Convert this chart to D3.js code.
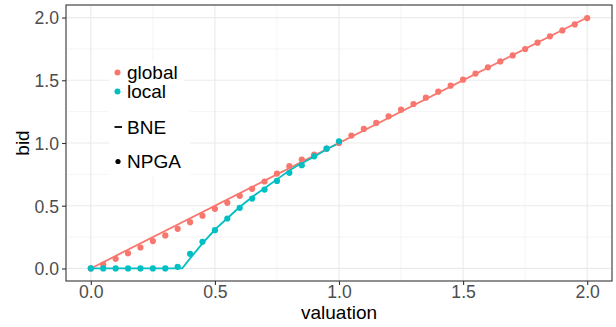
<!DOCTYPE html>
<html>
<head>
<meta charset="utf-8">
<script src="https://cdn.jsdelivr.net/npm/d3@7"></script>
<style>
  body { margin: 0; background: #fff; }
  text { font-family: "Liberation Sans", Arial, sans-serif; }
</style>
</head>
<body>
<div id="chart"></div>
<script>
// NPGA results on a 0.05 grid of valuations
const valuations = [0, 0.05, 0.1, 0.15, 0.2, 0.25, 0.3, 0.35, 0.4, 0.45, 0.5,
  0.55, 0.6, 0.65, 0.7, 0.75, 0.8, 0.85, 0.9, 0.95, 1.0,
  1.05, 1.1, 1.15, 1.2, 1.25, 1.3, 1.35, 1.4, 1.45, 1.5,
  1.55, 1.6, 1.65, 1.7, 1.75, 1.8, 1.85, 1.9, 1.95, 2.0];
const globalBid = [0, 0.03, 0.077, 0.12, 0.167, 0.218, 0.263, 0.316, 0.369, 0.42, 0.475,
  0.523, 0.579, 0.635, 0.693, 0.756, 0.815, 0.868, 0.908, 0.955, 1.0,
  1.059, 1.112, 1.16, 1.213, 1.266, 1.311, 1.361, 1.409, 1.457, 1.505,
  1.553, 1.603, 1.65, 1.698, 1.749, 1.8, 1.85, 1.897, 1.945, 1.996];
const localBid = [0, 0, 0, 0, 0, 0, 0, 0.013, 0.117, 0.213, 0.305,
  0.398, 0.483, 0.557, 0.629, 0.698, 0.762, 0.823, 0.894, 0.955, 1.013];

// BNE curves
const globalBneV = [0, 2];
const globalBneBid = [0, 2];
const localBneV = [0, 0.35, 0.368, 0.4, 0.45, 0.5, 0.55, 0.6, 0.65, 0.7, 0.75, 0.8, 0.85, 0.9, 0.95, 1.0];
const localBneBid = [0, 0, 0, 0.08, 0.2, 0.31, 0.4, 0.49, 0.57, 0.64, 0.71, 0.78, 0.84, 0.89, 0.95, 1.0];

const xTicks = [0, 0.5, 1.0, 1.5, 2.0];
const yTicks = [0, 0.5, 1.0, 1.5, 2.0];
const minorTicks = [0.25, 0.75, 1.25, 1.75];

const color = d3.scaleOrdinal().domain(["global", "local"]).range(["#F8766D", "#00BFC4"]);

const W = 616, H = 327;
const margin = { top: 5, right: 4, bottom: 46, left: 66 };
const width = W - margin.left - margin.right;
const height = H - margin.top - margin.bottom;

const x = d3.scaleLinear().domain([-0.1, 2.1]).range([0, width]);
const y = d3.scaleLinear().domain([-0.1, 2.1]).range([height, 0]);

const svg = d3.select("#chart").append("svg")
  .attr("width", W)
  .attr("height", H);

const g = svg.append("g")
  .attr("transform", `translate(${margin.left},${margin.top})`);

// grid
g.selectAll(".minor-x").data(minorTicks).join("line")
  .attr("x1", d => x(d)).attr("x2", d => x(d))
  .attr("y1", 0).attr("y2", height)
  .attr("stroke", "#F2F2F2").attr("stroke-width", 0.8);
g.selectAll(".minor-y").data(minorTicks).join("line")
  .attr("y1", d => y(d)).attr("y2", d => y(d))
  .attr("x1", 0).attr("x2", width)
  .attr("stroke", "#F2F2F2").attr("stroke-width", 0.8);
g.selectAll(".major-x").data(xTicks).join("line")
  .attr("x1", d => x(d)).attr("x2", d => x(d))
  .attr("y1", 0).attr("y2", height)
  .attr("stroke", "#EBEBEB").attr("stroke-width", 1.2);
g.selectAll(".major-y").data(yTicks).join("line")
  .attr("y1", d => y(d)).attr("y2", d => y(d))
  .attr("x1", 0).attr("x2", width)
  .attr("stroke", "#EBEBEB").attr("stroke-width", 1.2);

// BNE lines
const line = d3.line().x(d => x(d[0])).y(d => y(d[1]));
g.append("path")
  .datum(globalBneV.map((v, i) => [v, globalBneBid[i]]))
  .attr("d", line).attr("fill", "none")
  .attr("stroke", color("global")).attr("stroke-width", 1.8);
g.append("path")
  .datum(localBneV.map((v, i) => [v, localBneBid[i]]))
  .attr("d", line).attr("fill", "none")
  .attr("stroke", color("local")).attr("stroke-width", 1.8);

// NPGA points
g.selectAll(".pt-global").data(globalBid).join("circle")
  .attr("cx", (d, i) => x(valuations[i]))
  .attr("cy", d => y(d))
  .attr("r", 3.1)
  .attr("fill", color("global"));
g.selectAll(".pt-local").data(localBid).join("circle")
  .attr("cx", (d, i) => x(valuations[i]))
  .attr("cy", d => y(d))
  .attr("r", 3.1)
  .attr("fill", color("local"));

// panel border
g.append("rect")
  .attr("width", width).attr("height", height)
  .attr("fill", "none").attr("stroke", "#333333").attr("stroke-width", 1.1);

// axes
const xAxis = g.append("g")
  .attr("transform", `translate(0,${height})`)
  .call(d3.axisBottom(x).tickValues(xTicks).tickFormat(d3.format(".1f")).tickSize(4).tickPadding(1));
const yAxis = g.append("g")
  .call(d3.axisLeft(y).tickValues(yTicks).tickFormat(d3.format(".1f")).tickSize(4).tickPadding(3));
[xAxis, yAxis].forEach(a => {
  a.select(".domain").remove();
  a.selectAll("line").attr("stroke", "#333333").attr("stroke-width", 1.1);
  a.selectAll("text")
    .attr("fill", "#4D4D4D")
    .style("font-size", "17.6px")
    .style("font-family", "'Liberation Sans', Arial, sans-serif");
});
yAxis.selectAll("text").attr("dy", "0.36em");

// axis titles
svg.append("text")
  .attr("x", margin.left + width / 2)
  .attr("y", 318.5)
  .attr("text-anchor", "middle")
  .style("font-size", "19px")
  .text("valuation");
svg.append("text")
  .attr("transform", `translate(29,${margin.top + height / 2}) rotate(-90)`)
  .attr("text-anchor", "middle")
  .style("font-size", "19px")
  .text("bid");

// legends (inside panel)
const leg = svg.append("g");
leg.append("rect").attr("x", 109).attr("y", 61).attr("width", 75).attr("height", 41).attr("fill", "#fff");
leg.append("rect").attr("x", 109).attr("y", 104).attr("width", 81).attr("height", 72).attr("fill", "#fff");

["global", "local"].forEach((k, i) => {
  const cy = 72.5 + i * 19;
  leg.append("circle").attr("cx", 117.5).attr("cy", cy).attr("r", 3).attr("fill", color(k));
  leg.append("text").attr("x", 127).attr("y", cy).attr("dy", "0.35em")
    .style("font-size", "19px").text(k);
});

leg.append("line").attr("x1", 114.5).attr("x2", 122).attr("y1", 127).attr("y2", 127)
  .attr("stroke", "#000").attr("stroke-width", 1.8);
leg.append("text").attr("x", 127).attr("y", 127).attr("dy", "0.35em")
  .style("font-size", "19px").text("BNE");
leg.append("circle").attr("cx", 118).attr("cy", 161.5).attr("r", 2.6).attr("fill", "#000");
leg.append("text").attr("x", 127).attr("y", 161.5).attr("dy", "0.35em")
  .style("font-size", "19px").text("NPGA");
</script>
</body>
</html>
